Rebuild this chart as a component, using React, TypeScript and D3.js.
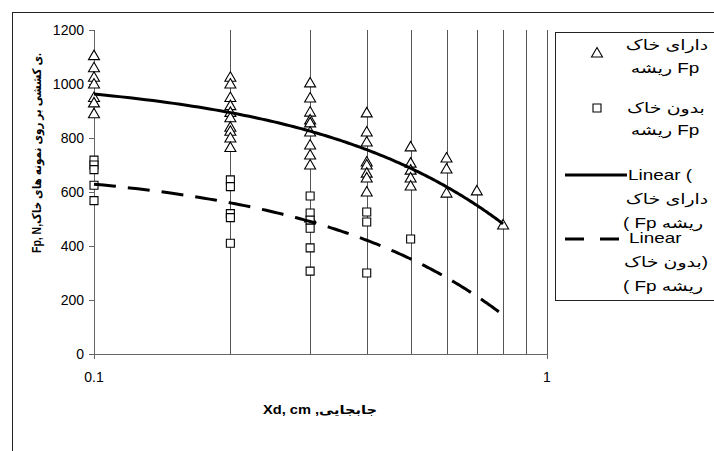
import React, { useRef, useEffect } from "react";
import * as d3 from "d3";

// displacement levels (cm) and pulling force readings (N) at each level
const displacements = [0.1, 0.2, 0.3, 0.4, 0.5, 0.6, 0.7, 0.8];
const withRoots = [
  [1105, 1060, 1025, 1000, 950, 930, 890],
  [1025, 1000, 950, 920, 895, 875, 840, 825, 800, 765],
  [1004, 948, 896, 867, 856, 822, 774, 737, 700, 504],
  [893, 822, 785, 711, 700, 670, 652, 600],
  [767, 707, 681, 652, 622],
  [726, 685, 596],
  [604],
  [478],
];
const withoutRoots = [
  [718, 700, 683, 625, 568],
  [645, 620, 520, 505, 410],
  [585, 522, 496, 466, 393, 307],
  [526, 489, 300],
  [426],
  [],
  [],
  [],
];
const yTicks = [0, 200, 400, 600, 800, 1000, 1200];
const xTickLabels = [0.1, 1];
const xGridLines = [0.1, 0.2, 0.3, 0.4, 0.5, 0.6, 0.7, 0.8, 0.9, 1];

const FONT = "'Liberation Sans', Arial, 'DejaVu Sans', sans-serif";

const toPoints = (groups: number[][]) =>
  groups.flatMap((vals, i) => vals.map((v) => ({ x: displacements[i], y: v })));

// ordinary least squares, like the spreadsheet "Linear" trendline
const fitLine = (pts: { x: number; y: number }[]) => {
  const mx = d3.mean(pts, (d) => d.x) as number;
  const my = d3.mean(pts, (d) => d.y) as number;
  const sxy = d3.sum(pts, (d) => (d.x - mx) * (d.y - my));
  const sxx = d3.sum(pts, (d) => (d.x - mx) ** 2);
  const b = sxy / sxx;
  return (x: number) => my + b * (x - mx);
};

const Chart = () => {
  const svgRef = useRef<SVGSVGElement>(null);

  useEffect(() => {
    const svg = d3.select(svgRef.current);
    svg.selectAll("*").remove();

    const left = 94, right = 547, top = 30, bottom = 354;
    const x = d3.scaleLog().domain([0.1, 1]).range([left, right]);
    const y = d3.scaleLinear().domain([0, 1200]).range([bottom, top]);

    svg.append("rect").attr("width", 714).attr("height", 451).attr("fill", "white");
    // chart frame
    svg.append("rect")
      .attr("x", 12.5).attr("y", 12.5).attr("width", 800).attr("height", 600)
      .attr("fill", "none").attr("stroke", "#222").attr("stroke-width", 1);

    // vertical grid lines (log minor)
    svg.selectAll(".grid")
      .data(xGridLines.slice(1))
      .enter()
      .append("line")
      .attr("x1", (d) => Math.round(x(d)) + 0.5)
      .attr("x2", (d) => Math.round(x(d)) + 0.5)
      .attr("y1", top)
      .attr("y2", bottom)
      .attr("stroke", "#555")
      .attr("stroke-width", 1);

    // axes
    svg.append("line")
      .attr("x1", left + 0.5).attr("x2", left + 0.5).attr("y1", top).attr("y2", bottom + 5)
      .attr("stroke", "#666");
    svg.append("line")
      .attr("x1", left).attr("x2", right + 0.5).attr("y1", bottom + 0.5).attr("y2", bottom + 0.5)
      .attr("stroke", "#666");
    svg.append("line")
      .attr("x1", Math.round(x(1)) + 0.5).attr("x2", Math.round(x(1)) + 0.5)
      .attr("y1", bottom).attr("y2", bottom + 5)
      .attr("stroke", "#666");

    svg.selectAll(".ytick")
      .data(yTicks)
      .enter()
      .append("line")
      .attr("x1", left - 5).attr("x2", left)
      .attr("y1", (d) => Math.round(y(d)) + 0.5)
      .attr("y2", (d) => Math.round(y(d)) + 0.5)
      .attr("stroke", "#666");

    svg.selectAll(".ylabel")
      .data(yTicks)
      .enter()
      .append("text")
      .attr("x", left - 10)
      .attr("y", (d) => y(d) + 5)
      .attr("text-anchor", "end")
      .style("font-family", FONT)
      .style("font-size", "14px")
      .text((d) => d);

    svg.selectAll(".xlabel")
      .data(xTickLabels)
      .enter()
      .append("text")
      .attr("x", (d) => x(d))
      .attr("y", bottom + 28)
      .attr("text-anchor", "middle")
      .style("font-family", FONT)
      .style("font-size", "14px")
      .text((d) => d);

    // axis titles
    svg.append("text")
      .attr("x", 320).attr("y", 414)
      .attr("text-anchor", "middle")
      .attr("textLength", 114)
      .attr("lengthAdjust", "spacingAndGlyphs")
      .style("font-family", FONT)
      .style("font-size", "12px")
      .style("font-weight", "bold")
      .text("Xd, cm ,جابجایی");

    svg.append("text")
      .attr("transform", "translate(41,153) rotate(-90)")
      .attr("text-anchor", "middle")
      .attr("textLength", 200)
      .attr("lengthAdjust", "spacingAndGlyphs")
      .style("font-family", FONT)
      .style("font-size", "12px")
      .style("font-weight", "bold")
      .text("Fp, N,ی کششی بر روی نمونه های خاک.");

    const triPath = "M0,-5.5L5.5,4L-5.5,4Z";
    const sqPath = "M-4,-4H4V4H-4Z";

    const rootPts = toPoints(withRoots);
    const barePts = toPoints(withoutRoots);

    svg.selectAll(".tri")
      .data(rootPts)
      .enter()
      .append("path")
      .attr("d", triPath)
      .attr("transform", (d) => `translate(${x(d.x)},${y(d.y)})`)
      .attr("fill", "white")
      .attr("stroke", "black")
      .attr("stroke-width", 1.1);

    svg.selectAll(".sq")
      .data(barePts)
      .enter()
      .append("path")
      .attr("d", sqPath)
      .attr("transform", (d) => `translate(${x(d.x)},${y(d.y)})`)
      .attr("fill", "white")
      .attr("stroke", "black")
      .attr("stroke-width", 1.1);

    // trendlines, drawn over the measured x range
    const [x0, x1] = d3.extent(rootPts, (d) => d.x) as [number, number];
    const samples = d3.range(x0, x1 + 1e-9, 0.005);
    const line = d3.line<[number, number]>()
      .x((d) => x(d[0]))
      .y((d) => y(d[1]));

    const fitRoots = fitLine(rootPts);
    const fitBare = fitLine(barePts);

    svg.append("path")
      .attr("d", line(samples.map((s) => [s, fitRoots(s)])))
      .attr("fill", "none")
      .attr("stroke", "black")
      .attr("stroke-width", 3);

    svg.append("path")
      .attr("d", line(samples.map((s) => [s, fitBare(s)])))
      .attr("fill", "none")
      .attr("stroke", "black")
      .attr("stroke-width", 3)
      .attr("stroke-dasharray", "22,12");

    // legend
    const lg = svg.append("g");
    lg.append("rect")
      .attr("x", 555.5).attr("y", 32.5).attr("width", 200).attr("height", 268)
      .attr("fill", "white").attr("stroke", "#222");

    lg.append("path").attr("d", triPath).attr("transform", "translate(597,53)")
      .attr("fill", "white").attr("stroke", "black").attr("stroke-width", 1.1);
    lg.append("path").attr("d", sqPath).attr("transform", "translate(597,108)")
      .attr("fill", "white").attr("stroke", "black").attr("stroke-width", 1.1);
    lg.append("line").attr("x1", 565).attr("x2", 627).attr("y1", 175).attr("y2", 175)
      .attr("stroke", "black").attr("stroke-width", 3);
    lg.append("line").attr("x1", 565).attr("x2", 627).attr("y1", 239).attr("y2", 239)
      .attr("stroke", "black").attr("stroke-width", 3).attr("stroke-dasharray", "19,16");

    // [text, baseline, anchor x, anchor]
    const legendLines: [string, number, number, string][] = [
      ["دارای خاک", 50, 667, "middle"],
      ["ریشه Fp", 73, 665, "middle"],
      ["بدون خاک", 113, 666, "middle"],
      ["ریشه Fp", 135, 665, "middle"],
      ["Linear (", 180, 628, "start"],
      ["دارای خاک", 204, 667, "middle"],
      ["( Fp ریشه", 228, 663, "middle"],
      ["Linear", 243, 629, "start"],
      ["بدون خاک)", 267, 666, "middle"],
      ["( Fp ریشه", 291, 663, "middle"],
    ];
    lg.selectAll(".lt")
      .data(legendLines)
      .enter()
      .append("text")
      .attr("transform", (d) => `translate(${d[2]},${d[1]}) scale(1.35,1)`)
      .attr("text-anchor", (d) => d[3])
      .style("font-family", FONT)
      .style("font-size", "14px")
      .text((d) => d[0]);
  }, []);

  return <svg ref={svgRef} width={714} height={451} style={{ display: "block" }} />;
};

export default function App() {
  return (
    <div style={{ position: "absolute", left: 0, top: 0, width: 714, height: 451, background: "white" }}>
      <Chart />
    </div>
  );
}
